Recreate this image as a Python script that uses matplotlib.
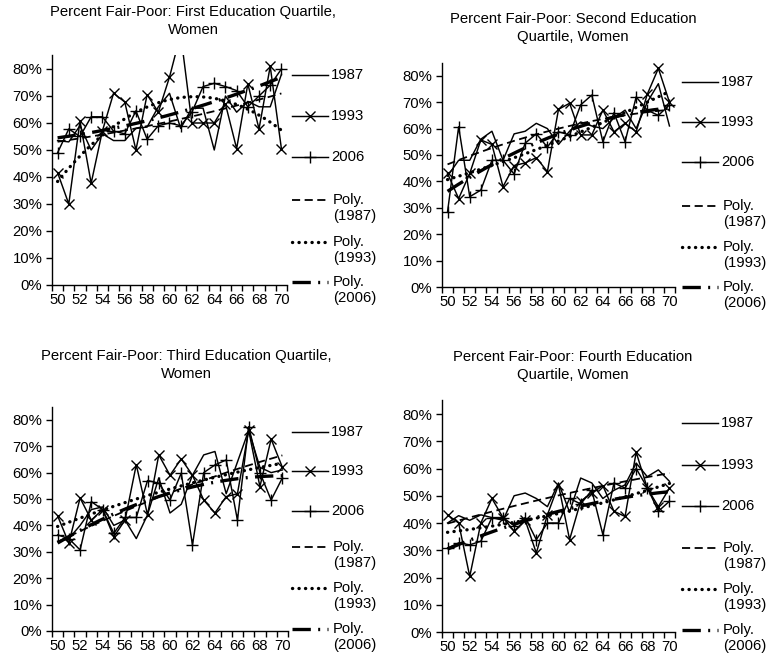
import numpy as np
import matplotlib
matplotlib.use("Agg")
import matplotlib.pyplot as plt
from matplotlib.lines import Line2D
from matplotlib.ticker import PercentFormatter

plt.rcParams['font.family'] = ['Liberation Sans', 'DejaVu Sans']
FS = 10.7

ages = list(range(50, 71))
age_labels = [str(a) for a in range(50, 71, 2)]
series_names = ['1987', '1993', '2006']

titles = [
    "Percent Fair-Poor: First Education Quartile,\nWomen",
    "Percent Fair-Poor: Second Education\nQuartile, Women",
    "Percent Fair-Poor: Third Education Quartile,\nWomen",
    "Percent Fair-Poor: Fourth Education\nQuartile, Women",
]

# First education quartile
q1_1987 = [0.535, 0.53, 0.59, 0.50, 0.56, 0.535, 0.535, 0.58, 0.585, 0.66, 0.71,
           0.58, 0.655, 0.655, 0.50, 0.70, 0.64, 0.68, 0.66, 0.66, 0.78]
q1_1993 = [0.416, 0.30, 0.607, 0.377, 0.57, 0.71, 0.678, 0.50, 0.705, 0.64, 0.77,
           0.93, 0.60, 0.60, 0.60, 0.67, 0.505, 0.745, 0.578, 0.81, 0.505]
q1_2006 = [0.49, 0.578, 0.55, 0.623, 0.623, 0.57, 0.56, 0.645, 0.54, 0.59, 0.60,
           0.59, 0.64, 0.735, 0.747, 0.735, 0.72, 0.66, 0.70, 0.74, 0.80]

# Second education quartile
q2_1987 = [0.42, 0.48, 0.48, 0.56, 0.59, 0.48, 0.58, 0.59, 0.62, 0.60, 0.54,
           0.59, 0.625, 0.61, 0.60, 0.64, 0.67, 0.60, 0.70, 0.77, 0.61]
q2_1993 = [0.43, 0.335, 0.43, 0.557, 0.54, 0.38, 0.46, 0.47, 0.49, 0.437, 0.673,
           0.696, 0.576, 0.576, 0.67, 0.588, 0.62, 0.588, 0.73, 0.828, 0.70]
q2_2006 = [0.285, 0.607, 0.342, 0.367, 0.48, 0.48, 0.428, 0.545, 0.58, 0.53, 0.588,
           0.576, 0.69, 0.727, 0.55, 0.66, 0.55, 0.72, 0.67, 0.65, 0.69]

# Third education quartile
q3_1987 = [0.34, 0.35, 0.40, 0.46, 0.47, 0.40, 0.42, 0.35, 0.44, 0.58, 0.447,
           0.48, 0.59, 0.667, 0.68, 0.52, 0.64, 0.76, 0.62, 0.60, 0.61]
q3_1993 = [0.436, 0.333, 0.504, 0.42, 0.46, 0.357, 0.42, 0.63, 0.44, 0.667, 0.59,
           0.652, 0.59, 0.496, 0.447, 0.509, 0.52, 0.76, 0.547, 0.727, 0.62]
q3_2006 = [0.364, 0.35, 0.307, 0.49, 0.46, 0.37, 0.43, 0.43, 0.57, 0.56, 0.496,
           0.598, 0.326, 0.60, 0.629, 0.648, 0.42, 0.774, 0.60, 0.496, 0.58]

# Fourth education quartile
q4_1987 = [0.40, 0.427, 0.41, 0.43, 0.42, 0.41, 0.50, 0.51, 0.49, 0.46, 0.547,
           0.44, 0.565, 0.547, 0.49, 0.52, 0.54, 0.62, 0.57, 0.595, 0.553]
q4_1993 = [0.43, 0.40, 0.204, 0.40, 0.49, 0.42, 0.37, 0.41, 0.29, 0.43, 0.54,
           0.339, 0.48, 0.51, 0.537, 0.443, 0.424, 0.66, 0.528, 0.46, 0.528]
q4_2006 = [0.308, 0.327, 0.32, 0.333, 0.42, 0.42, 0.39, 0.42, 0.339, 0.40, 0.40,
           0.49, 0.47, 0.52, 0.357, 0.547, 0.528, 0.60, 0.53, 0.443, 0.48]

panels = [
    (q1_1987, q1_1993, q1_2006),
    (q2_1987, q2_1993, q2_2006),
    (q3_1987, q3_1993, q3_2006),
    (q4_1987, q4_1993, q4_2006),
]

W, H = 767, 654
fig = plt.figure(figsize=(W / 100, H / 100), dpi=100)


def fx(px):
    return px / W


def fy(py):
    return 1 - py / H


# axes boxes in pixels: left, right, bottom, top
boxes = [(52, 287, 285, 55.5), (442, 675, 287, 62.6),
         (52, 288, 631, 406.6), (442, 675, 632, 400.4)]
title_pos = [(193, 21), (573, 28), (186, 365), (573, 366)]
legend_x = [(292, 328, 331), (682, 718, 721), (292, 328, 331), (682, 718, 721)]
legend_y = [(75, 116, 157, 200, 242, 282), (82, 122, 162, 206, 247, 287),
            (432, 471, 511, 547, 588, 629), (423, 465, 506, 548, 589, 630)]

data_styles = [dict(marker=None), dict(marker='x', markersize=6.5, markeredgewidth=1.0),
               dict(marker='+', markersize=8, markeredgewidth=1.0)]
trend_styles = [
    dict(linestyle=(0, (4.5, 2.5)), linewidth=1.3),
    dict(linestyle=(0, (0.05, 1.9)), linewidth=2.4, dash_capstyle='round'),
    dict(linestyle=(0, (5.5, 2.2, 0.6, 2.2)), linewidth=2.4),
]

for k, (box, series) in enumerate(zip(boxes, panels)):
    l, r, b, t = box
    ax = fig.add_axes([fx(l), fy(b), fx(r - l), (b - t) / H])
    x = np.array(ages)
    for vals, st in zip(series, data_styles):
        ax.plot(x, vals, color='black', linewidth=1.05, clip_on=True, **st)
    xs = np.linspace(x[0], x[-1], 200)
    for vals, st in zip(series, trend_styles):
        coef = np.polyfit(x, vals, 2)
        ax.plot(xs, np.polyval(coef, xs), color='black', **st)

    ax.set_xlim(49.5, 70.5)
    ax.set_ylim(0, 0.85)
    ax.set_yticks(np.arange(0, 0.81, 0.1))
    ax.yaxis.set_major_formatter(PercentFormatter(1.0, decimals=0))
    ax.set_xticks(range(50, 71, 2))
    ax.set_xticklabels(age_labels)
    ax.set_xticks(np.arange(49.5, 70.6, 1.0), minor=True)
    ax.tick_params(axis='x', which='major', length=0, pad=6, labelsize=FS)
    ax.tick_params(axis='x', which='minor', length=4, width=1, direction='out')
    ax.tick_params(axis='y', length=4, width=1, direction='out', pad=3, labelsize=FS)
    for s in ('top', 'right'):
        ax.spines[s].set_visible(False)
    for s in ('left', 'bottom'):
        ax.spines[s].set_linewidth(1.0)
        ax.spines[s].set_color('black')

    tx, ty = title_pos[k]
    fig.text(fx(tx), fy(ty), titles[k], ha='center', va='center', fontsize=FS,
             linespacing=1.3)

    # legend
    x0, x1, xt = legend_x[k]
    ys = legend_y[k]
    for j in range(3):
        ln = Line2D([fx(x0), fx((x0 + x1) / 2), fx(x1)], [fy(ys[j])] * 3,
                    color='black', linewidth=1.05, markevery=[1],
                    transform=fig.transFigure, **data_styles[j])
        fig.add_artist(ln)
        fig.text(fx(xt), fy(ys[j]), series_names[j], ha='left', va='center', fontsize=FS)
    for j in range(3):
        ln = Line2D([fx(x0), fx(x1)], [fy(ys[3 + j])] * 2, color='black',
                    transform=fig.transFigure, **trend_styles[j])
        fig.add_artist(ln)
        fig.text(fx(xt + 2), fy(ys[3 + j]), "Poly.", ha='left', va='center', fontsize=FS)
        fig.text(fx(xt + 2), fy(ys[3 + j] + 16), "(" + series_names[j] + ")",
                 ha='left', va='center', fontsize=FS)

fig.savefig("out.png", dpi=100)
